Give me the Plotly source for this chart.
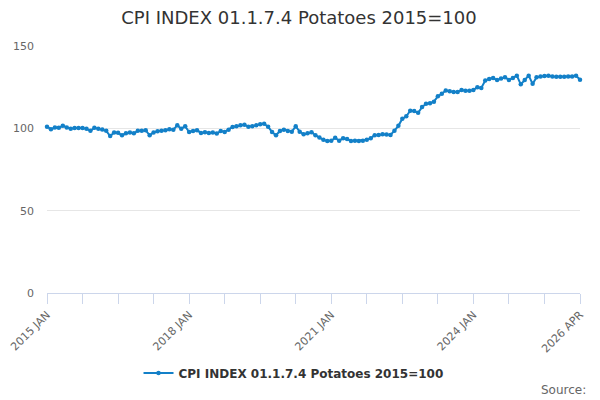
import plotly.graph_objects as go

# ============================================================
#                  DATA
# ============================================================

month_names = ["JAN", "FEB", "MAR", "APR", "MAY", "JUN",
               "JUL", "AUG", "SEP", "OCT", "NOV", "DEC"]
months = [f"{y} {m}" for y in range(2015, 2027) for m in month_names][:136]

cpi_potatoes = [
    101.0, 99.5, 100.5, 100.3, 101.5, 100.5, 99.8, 100.2, 100.2, 100.2, 99.7, 98.5,
    100.3, 99.8, 99.3, 98.5, 95.3, 97.5, 97.3, 95.8, 97.0, 97.5, 97.0, 98.5,
    98.5, 98.8, 95.8, 97.5, 98.3, 98.5, 98.8, 99.5, 99.2, 101.8, 99.8, 101.2,
    97.8, 98.4, 98.8, 97.2, 97.6, 97.2, 97.5, 96.8, 98.4, 97.8, 99.2, 100.8,
    101.3, 101.8, 102.2, 101.0, 101.3, 101.8, 102.5, 102.8, 101.0, 97.8, 95.8, 98.4,
    99.2, 98.4, 98.0, 101.2, 98.0, 96.4, 97.0, 97.6, 95.8, 94.5, 93.0, 92.3,
    92.5, 94.3, 92.5, 94.0, 93.5, 92.3, 92.5, 92.3, 92.5, 93.0, 94.0, 95.8,
    96.0, 96.4, 96.2, 96.0, 98.6, 101.5, 105.8, 107.3, 110.7, 110.5, 109.4, 112.9,
    115.0, 115.3, 116.2, 119.5, 121.0, 123.0, 122.5, 122.0, 122.0, 123.3, 122.8, 122.8,
    123.3, 125.0, 124.5, 129.0, 130.0, 130.5, 129.3, 130.2, 131.0, 129.3, 130.5, 132.0,
    126.7, 129.3, 132.0, 127.0, 131.0, 131.5, 131.8, 132.0, 131.5, 131.3, 131.3, 131.3,
    131.5, 131.5, 132.0, 129.5,
]

series_name = "CPI INDEX 01.1.7.4 Potatoes 2015=100"
labelled_months = ["2015 JAN", "2018 JAN", "2021 JAN", "2024 JAN", "2026 APR"]
y_ticks = [0, 50, 100, 150]

# ============================================================
#                  FIGURE
# ============================================================

tick_months = months[::9]
tick_text = [m if m in labelled_months else "" for m in tick_months]

fig = go.Figure()
fig.add_trace(go.Scatter(
    x=months,
    y=cpi_potatoes,
    name=series_name,
    mode="lines+markers",
    line=dict(color="#1380c8", width=2),
    marker=dict(color="#1380c8", size=4.5),
    cliponaxis=False,
    showlegend=True,
))

# the page puts the figure 8px in from the top-left, so margins are shifted
fig.update_layout(
    width=600,
    height=400,
    margin=dict(l=39, r=28, t=38, b=115, autoexpand=False),
    paper_bgcolor="white",
    plot_bgcolor="white",
    font=dict(family="DejaVu Sans", color="#666666", size=11),
    title=dict(
        text=series_name,
        x=0.485, xanchor="center", xref="container",
        y=0.975, yanchor="middle",
        font=dict(family="DejaVu Sans", size=18, color="#333333"),
    ),
    showlegend=True,
    legend=dict(
        orientation="h",
        x=0.4625, xanchor="center",
        y=-0.324, yanchor="middle",
        font=dict(size=12, color="#333333", weight="bold"),
    ),
)

fig.update_xaxes(
    type="category",
    categoryorder="array",
    categoryarray=months,
    range=[0, len(months) - 1],
    tickmode="array",
    tickvals=tick_months,
    ticktext=tick_text,
    tickangle=-45,
    ticks="outside",
    ticklen=10,
    tickcolor="#ccd6eb",
    showline=True,
    linecolor="#ccd6eb",
    showgrid=False,
    automargin=False,
    tickfont=dict(size=11, color="#666666"),
)

fig.update_yaxes(
    range=[0, 150],
    tickvals=y_ticks,
    showgrid=True,
    gridcolor="#e6e6e6",
    zeroline=False,
    showline=False,
    automargin=False,
    ticklabelstandoff=12,
    tickfont=dict(size=11, color="#666666"),
)

fig.add_annotation(
    text="Source:",
    xref="paper", yref="paper",
    x=1.015, xanchor="right",
    y=-0.393, yanchor="middle",
    showarrow=False,
    font=dict(size=12, color="#666666"),
)

fig.write_html("out.html")
